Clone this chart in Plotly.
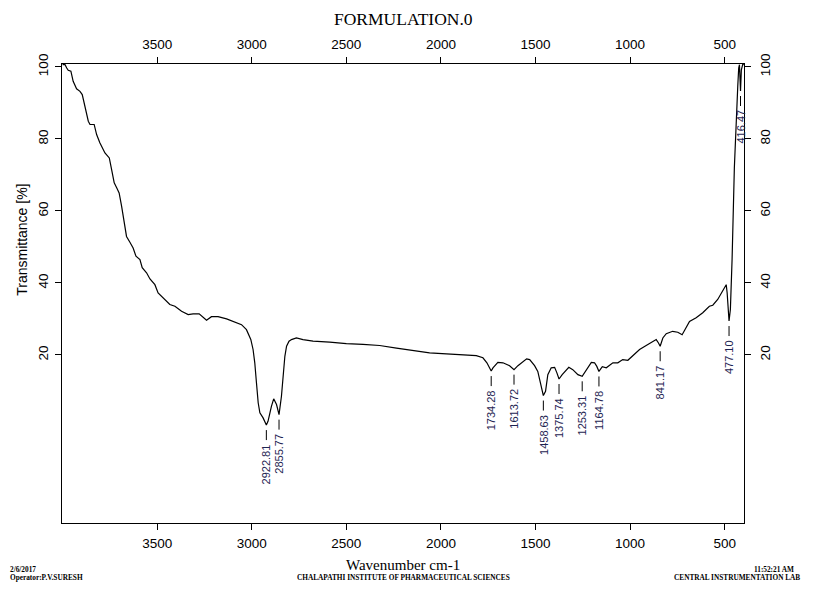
import numpy as np
import plotly.graph_objects as go

wavenumber = [4000, 3987, 3978, 3970, 3956, 3944, 3926, 3908, 3896, 3882,
              3864, 3855, 3833, 3820, 3803, 3776, 3753, 3741, 3727, 3714,
              3701, 3688, 3674, 3662, 3644, 3627, 3612, 3591, 3579, 3556,
              3538, 3512, 3495, 3468, 3433, 3406, 3371, 3336, 3310, 3278,
              3257, 3239, 3213, 3178, 3133, 3090, 3054, 3028, 3005, 2993,
              2984, 2975, 2966, 2957, 2940, 2922.81, 2914, 2896, 2884, 2869,
              2855.77, 2843, 2834, 2825, 2816, 2803, 2790, 2764, 2729, 2676,
              2588, 2500, 2412, 2324, 2235, 2148, 2060, 1971, 1884, 1813,
              1778, 1757, 1734.28, 1725, 1699, 1672, 1637, 1613.72, 1593, 1567,
              1547, 1531, 1505, 1488, 1475, 1458.63, 1447, 1435, 1417, 1399,
              1387, 1375.74, 1359, 1324, 1303, 1276, 1253.31, 1232, 1205, 1188,
              1176, 1164.78, 1147, 1126, 1091, 1065, 1039, 1012, 986, 950,
              915, 880, 862, 850, 841.17, 827, 809, 775, 748, 725,
              707, 686, 651, 616, 581, 563, 537, 507, 492, 487,
              480, 477.10, 470, 464, 461, 449, 445, 440, 431, 426,
              422, 416.47, 412, 405, 399]

transmittance = [100.6, 100.6, 99.7, 99.05, 98.8, 96.0, 93.9, 93.2, 92.3, 89.0,
                 84.9, 84.0, 84.0, 81.2, 78.9, 76.1, 74.7, 71.5, 67.8, 66.4,
                 65.0, 61.3, 56.7, 52.9, 51.3, 49.7, 47.4, 46.5, 44.2, 42.8,
                 41.1, 39.5, 37.2, 35.8, 34.0, 33.5, 32.1, 31.2, 31.4, 31.4,
                 30.3, 29.6, 30.6, 30.6, 30.0, 29.1, 28.4, 27.0, 24.3, 21.5,
                 17.8, 12.2, 6.7, 3.9, 2.5, 0.5, 1.55, 5.7, 7.8, 6.2,
                 3.4, 8.5, 14.1, 19.6, 22.4, 23.8, 24.25, 24.7, 24.25, 23.8,
                 23.55, 23.1, 22.9, 22.6, 21.9, 21.3, 20.55, 20.3, 20.1, 19.8,
                 19.2, 17.8, 15.5, 16.4, 17.9, 17.8, 17.0, 15.9, 17.0, 18.2,
                 18.9, 18.7, 17.0, 15.4, 12.2, 8.7, 9.9, 14.5, 16.4, 16.55,
                 15.0, 13.3, 14.5, 16.55, 15.9, 14.5, 14.05, 15.9, 17.9, 17.8,
                 16.8, 15.4, 16.7, 16.4, 17.8, 17.8, 18.7, 18.5, 19.8, 21.5,
                 22.6, 23.8, 24.25, 23.3, 22.4, 24.7, 25.9, 26.55, 26.3, 25.6,
                 27.5, 29.3, 30.3, 31.7, 33.5, 33.8, 35.4, 37.9, 39.5, 37.2,
                 31.7, 29.4, 32.6, 41.8, 46.5, 71.9, 77.9, 86.3, 94.6, 99.7,
                 100.6, 93.3, 99.2, 100.6, 100.6]

peak_wavenumbers = [2922.81, 2855.77, 1734.28, 1613.72, 1458.63, 1375.74,
                    1253.31, 1164.78, 841.17, 477.10, 416.47]

x_ticks = [3500, 3000, 2500, 2000, 1500, 1000, 500]
y_ticks = [20, 40, 60, 80, 100]

title_text = "FORMULATION.0"
x_title = "Wavenumber cm-1"
y_title = "Transmittance [%]"
footer_left = ["2/6/2017", "Operator:P.V.SURESH"]
footer_center = "CHALAPATHI INSTITUTE OF PHARMACEUTICAL SCIENCES"
footer_right = ["11:52:21 AM", "CENTRAL INSTRUMENTATION LAB"]

X_RANGE = [4003, 398]
Y_RANGE = [-26.7, 100.8]

fig = go.Figure()
fig.add_trace(go.Scatter(x=wavenumber, y=transmittance, mode="lines",
                         line=dict(color="black", width=1.2),
                         hoverinfo="skip", showlegend=False))
fig.add_trace(go.Scatter(x=wavenumber, y=transmittance, mode="lines",
                         xaxis="x2", yaxis="y2",
                         line=dict(color="rgba(0,0,0,0)", width=0),
                         hoverinfo="skip", showlegend=False))

wn_arr = np.array(wavenumber)[::-1]
t_arr = np.array(transmittance)[::-1]
label_color = "#1e2452"
for p in peak_wavenumbers:
    tval = float(np.interp(p, wn_arr, t_arr))
    fig.add_shape(type="line", xref="x", yref="y", ysizemode="pixel",
                  yanchor=tval, x0=p, x1=p, y0=-5, y1=-15,
                  line=dict(color="black", width=1))
    fig.add_annotation(x=p, y=tval, xref="x", yref="y",
                       text=f"{p:.2f}", textangle=-90, showarrow=False,
                       xanchor="center", yanchor="top", yshift=-17,
                       font=dict(family="Liberation Sans, Arial", size=11,
                                 color=label_color))

axis_font = dict(family="Liberation Sans, Arial", size=13.5, color="black")
common_x = dict(range=X_RANGE, autorange=False, tickvals=x_ticks,
                ticks="outside", ticklen=6, tickwidth=1, tickcolor="black",
                showline=True, linecolor="black", linewidth=1.3,
                showgrid=False, zeroline=False, tickfont=axis_font,
                automargin=False)
common_y = dict(range=Y_RANGE, autorange=False, tickvals=y_ticks,
                ticks="outside", ticklen=6, tickwidth=1, tickcolor="black",
                showline=True, linecolor="black", linewidth=1.3,
                showgrid=False, zeroline=False, tickfont=axis_font,
                tickangle=-90, automargin=False)

# page body adds an 8px offset, so the figure is 8px smaller and margins shifted
fig.update_layout(
    width=806, height=594, autosize=False,
    margin=dict(l=54, r=69.5, t=56, b=78.7, autoexpand=False),
    paper_bgcolor="white", plot_bgcolor="white",
    xaxis=dict(**common_x, side="bottom", anchor="y", ticklabelstandoff=2),
    xaxis2=dict(**common_x, side="top", overlaying="x", anchor="y",
                matches="x", ticklabelstandoff=2),
    yaxis=dict(**common_y, side="left", anchor="x", ticklabelstandoff=1),
    yaxis2=dict(**common_y, side="right", overlaying="y", anchor="x",
                matches="y", ticklabelstandoff=3),
    showlegend=False,
)

fig.add_annotation(text=title_text, xref="paper", yref="paper",
                   x=0.5, y=1, yshift=45, xanchor="center", yanchor="middle",
                   showarrow=False,
                   font=dict(family="Liberation Serif, serif", size=17.5, color="black"))
fig.add_annotation(text=x_title, xref="paper", yref="paper",
                   x=0.5, y=0, yshift=-42, xanchor="center", yanchor="middle",
                   showarrow=False,
                   font=dict(family="Liberation Serif, serif", size=15, color="black"))
fig.add_annotation(text=y_title, xref="paper", yref="paper",
                   x=0, y=0.617, xshift=-40, xanchor="center", yanchor="middle",
                   textangle=-90, showarrow=False,
                   font=dict(family="Liberation Sans, Arial", size=14, color="black"))

foot_font = dict(family="Liberation Serif, serif", size=7.3, color="black")

fig.add_annotation(text="<b>" + footer_left[0] + "</b>", xref="paper", yref="paper",
                   x=0, xshift=-53, y=0, yshift=-46, xanchor="left", yanchor="middle",
                   showarrow=False, font=foot_font, borderpad=0)
fig.add_annotation(text="<b>" + footer_left[1] + "</b>", xref="paper", yref="paper",
                   x=0, xshift=-53, y=0, yshift=-54, xanchor="left", yanchor="middle",
                   showarrow=False, font=foot_font, borderpad=0)
fig.add_annotation(text="<b>" + footer_center + "</b>", xref="paper", yref="paper",
                   x=0.5, y=0, yshift=-54, xanchor="center", yanchor="middle",
                   showarrow=False, font=foot_font, borderpad=0)
fig.add_annotation(text="<b>" + footer_right[0] + "</b>", xref="paper", yref="paper",
                   x=1, xshift=51, y=0, yshift=-46, xanchor="right", yanchor="middle",
                   showarrow=False, font=foot_font, borderpad=0)
fig.add_annotation(text="<b>" + footer_right[1] + "</b>", xref="paper", yref="paper",
                   x=1, xshift=57, y=0, yshift=-54, xanchor="right", yanchor="middle",
                   showarrow=False, font=foot_font, borderpad=0)

fig.write_html("out.html")
